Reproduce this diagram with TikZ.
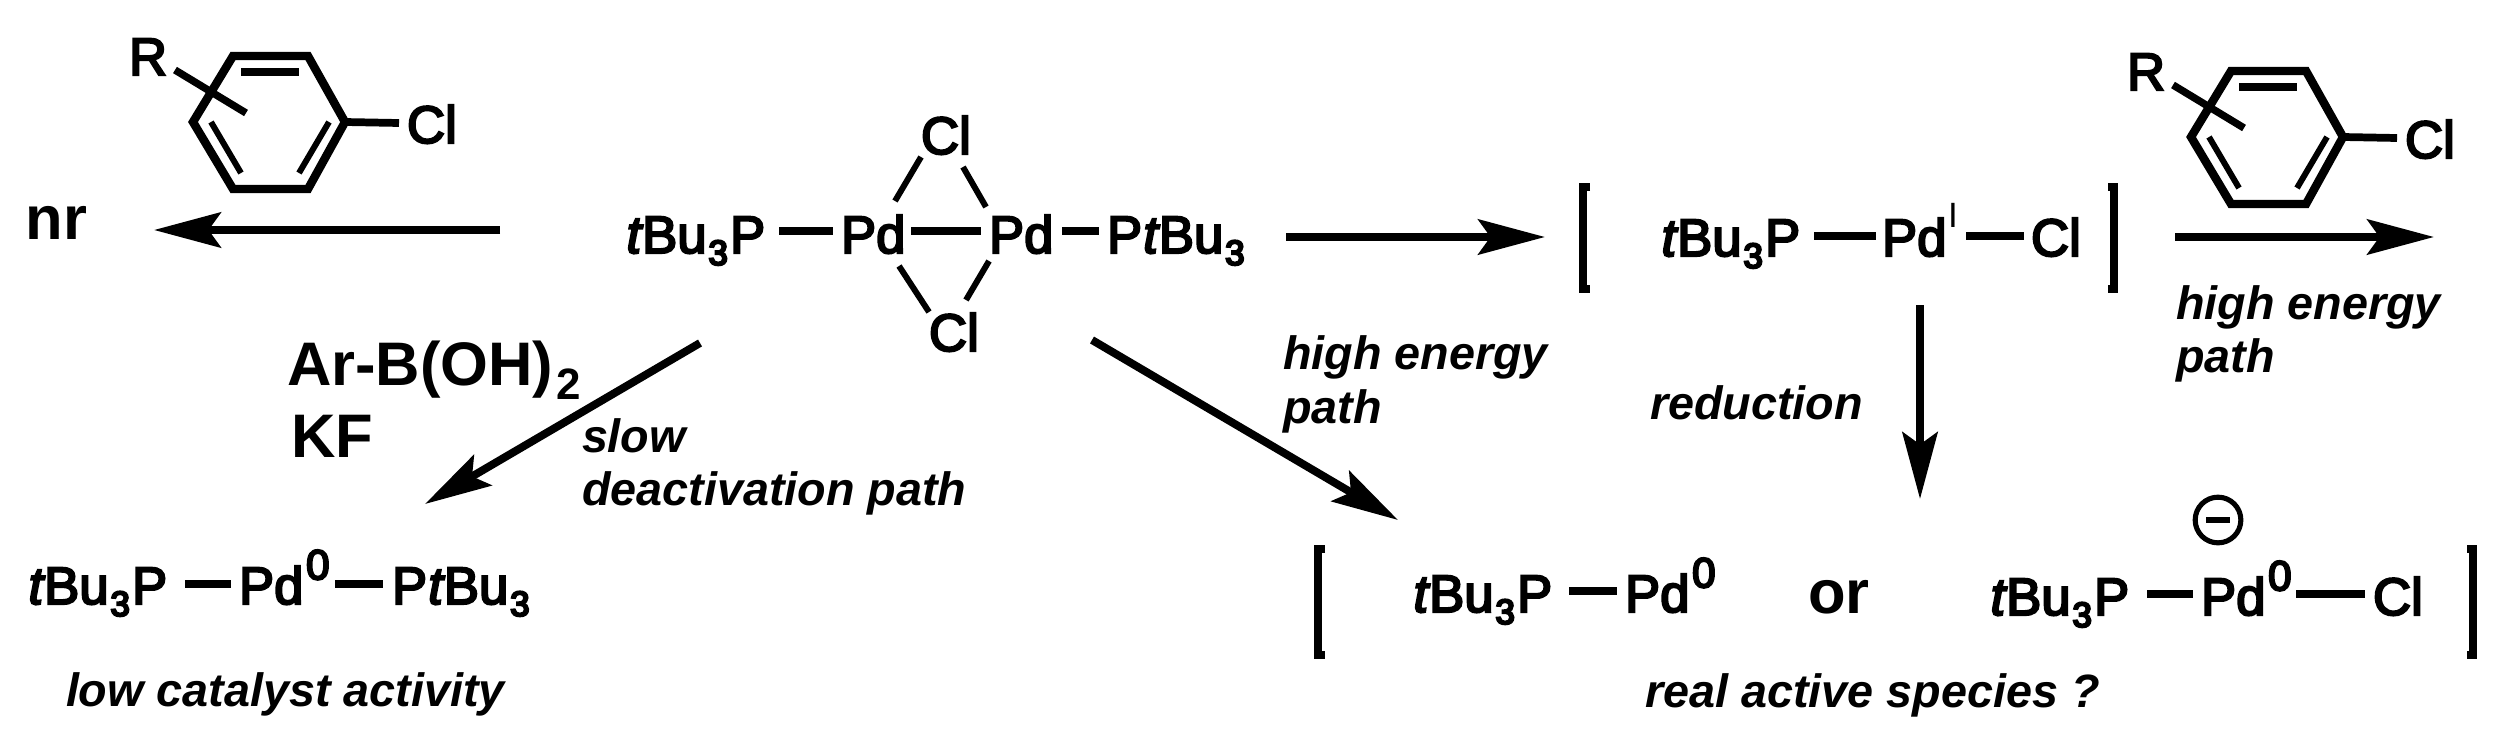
\documentclass[tikz,border=0pt]{standalone}
\usepackage{fontspec}
\usetikzlibrary{arrows.meta}
\setmainfont{Liberation Sans}
\newfontfamily\chemf{Liberation Sans}
\newfontfamily\boldf{Liberation Sans Bold}
\newfontfamily\bif{Liberation Sans Bold Italic}
\newfontfamily\itf{Liberation Sans Italic}
\newcommand\main{\fontsize{30pt}{30pt}\chemf}
\newcommand\subf{\fontsize{20pt}{20pt}\chemf}
\newcommand\supf{\fontsize{24pt}{24pt}\chemf}
\newcommand\tbu{\hspace{-2pt}{\fontsize{30pt}{30pt}\itf t}\hspace{.6pt}Bu\hspace{1pt}\raisebox{-6.8pt}{\subf 3}\hspace{1.2pt}P}
\newcommand\ptbu{P\hspace{.6pt}{\fontsize{30pt}{30pt}\itf t}\hspace{.6pt}Bu\hspace{1pt}\raisebox{-6.8pt}{\subf 3}}
\newcommand\pdzero{Pd\raisebox{14pt}{\hspace{1.5pt}\supf 0}}
\tikzset{
  chem/.style={anchor=base west,inner sep=0pt,outer sep=0pt,font=\main,
    execute at begin node={\special{pdf:code 2 Tr 1.2 w}},
    execute at end node={\special{pdf:code 0 Tr}}},
  heavy/.style={anchor=base west,inner sep=0pt,outer sep=0pt,font=\fontsize{35pt}{35pt}\boldf},
  note/.style={anchor=base west,inner sep=0pt,outer sep=0pt,font=\fontsize{26.6pt}{26.6pt}\bif},
  bond/.style={line width=4.4pt},
  wbond/.style={line width=3.4pt},
  ringline/.style={line width=4.8pt,line join=miter},
  inner/.style={line width=3.4pt},
  rxn/.style={line width=4.5pt,-{Stealth[length=38pt,width=20pt,inset=7pt]}},
  brk/.style={line width=4.4pt,line join=miter}
}
\begin{document}
\begin{tikzpicture}[x=0.02cm,y=-0.02cm]
\path[use as bounding box,fill=white] (0,0) rectangle (2500,744);

% rings
\foreach \dx/\dy/\p in {0/0/a,1998/15/b}{
\begin{scope}[shift={(\dx,\dy)}]
  \coordinate (\p1) at (233,56);
  \coordinate (\p2) at (308,56);
  \coordinate (\p3) at (345,122);
  \coordinate (\p4) at (308,189);
  \coordinate (\p5) at (233,189);
  \coordinate (\p6) at (193,122);
  \draw[ringline] (\p1)--(\p2)--(\p3)--(\p4)--(\p5)--(\p6)--cycle;
  \coordinate (\p t1) at (241,72);
  \coordinate (\p t2) at (299,72);
  \coordinate (\p l1) at (211,122);
  \coordinate (\p l2) at (241,173);
  \coordinate (\p r1) at (329,122);
  \coordinate (\p r2) at (299,173);
  \draw[line width=4.4pt] (\p t1)--(\p t2);
  \draw[inner] (\p l1)--(\p l2);
  \draw[inner] (\p r1)--(\p r2);
  \coordinate (\p s1) at (175,70);
  \coordinate (\p s2) at (246,113);
  \draw[line width=4.2pt] (\p s1)--(\p s2);
  \node[chem] (\p R) at (129,75) {R};
  \node[chem] (\p Cl) at (407,143) {Cl};
  \coordinate (\p c) at (399,123);
  \draw[bond] (\p3)--(\p c);
\end{scope}}

% nr arrow
\node[heavy] (nr) at (26,239) {nr};
\coordinate (nrs) at (500,230);
\coordinate (nre) at (154,230);
\draw[rxn] (nrs)--(nre);

% dimer
\node[chem] (dp1) at (630,253) {\tbu};
\node[chem] (dpd1) at (841,253) {Pd};
\node[chem] (dpd2) at (989,253) {Pd};
\node[chem] (dp2) at (1107,253) {\ptbu};
\node[chem] (dcl1) at (921,154) {Cl};
\node[chem] (dcl2) at (929,351) {Cl};
\coordinate (b1a) at (779,231); \coordinate (b1b) at (833,231);
\coordinate (b2a) at (911,231); \coordinate (b2b) at (981,231);
\coordinate (b3a) at (1062,231); \coordinate (b3b) at (1099,231);
\draw[bond] (b1a)--(b1b);
\draw[bond] (b2a)--(b2b);
\draw[bond] (b3a)--(b3b);
\coordinate (c1a) at (921,157); \coordinate (c1b) at (895,201);
\coordinate (c2a) at (963,167); \coordinate (c2b) at (986,207);
\coordinate (c3a) at (899,266); \coordinate (c3b) at (929,312);
\coordinate (c4a) at (989,261); \coordinate (c4b) at (966,300);
\draw[wbond] (c1a)--(c1b);
\draw[wbond] (c2a)--(c2b);
\draw[wbond] (c3a)--(c3b);
\draw[wbond] (c4a)--(c4b);

% reagents
\node[heavy] (arb) at (287,385) {Ar-B(OH)\hspace{1.5pt}\raisebox{-8pt}{\fontsize{25pt}{25pt}\boldf 2}};
\node[heavy] (kf) at (291,457) {KF};

% diagonal arrows
\coordinate (d1s) at (700,343); \coordinate (d1e) at (425,504);
\draw[rxn] (d1s)--(d1e);
\coordinate (d2s) at (1092,340); \coordinate (d2e) at (1398,520);
\draw[rxn] (d2s)--(d2e);

\node[note] (slow) at (582,452) {slow};
\node[note] (deact) at (582,505) {deactivation path};

% bottom left
\node[chem] (l1) at (32,604) {\tbu};
\node[chem] (l2) at (239,604) {\pdzero};
\node[chem] (l3) at (392,604) {\ptbu};
\coordinate (l4a) at (185,584); \coordinate (l4b) at (231,584);
\coordinate (l5a) at (335,584); \coordinate (l5b) at (383,584);
\draw[bond] (l4a)--(l4b);
\draw[bond] (l5a)--(l5b);
\node[note] (lowc) at (66,706) {low catalyst activity};

% top arrow and Pd(I)
\coordinate (h1s) at (1286,237); \coordinate (h1e) at (1545,237);
\draw[rxn] (h1s)--(h1e);
\coordinate (bl1) at (1590,187); \coordinate (bl2) at (1583,187);
\coordinate (bl3) at (1583,289); \coordinate (bl4) at (1590,289);
\draw[brk] (bl1)--(bl2)--(bl3)--(bl4);
\coordinate (br1) at (2108,187); \coordinate (br2) at (2114,187);
\coordinate (br3) at (2114,289); \coordinate (br4) at (2108,289);
\draw[brk] (br1)--(br2)--(br3)--(br4);
\node[chem] (m1) at (1665,256) {\tbu};
\node[chem] (m2) at (1882,256) {Pd};
\node[anchor=base west,inner sep=0pt,outer sep=0pt,font=\fontsize{20pt}{20pt}\chemf] (m3) at (1948,227) {I};
\node[chem] (m4) at (2031,256) {Cl};
\coordinate (m5a) at (1814,236); \coordinate (m5b) at (1876,236);
\coordinate (m6a) at (1966,236); \coordinate (m6b) at (2024,236);
\draw[bond] (m5a)--(m5b);
\draw[bond] (m6a)--(m6b);
\coordinate (h2s) at (2175,237); \coordinate (h2e) at (2434,237);
\draw[rxn] (h2s)--(h2e);

\node[note] (he1) at (2176,319) {high energy};
\node[note] (he2) at (2176,372) {path};
\node[note] (he3) at (1283,369) {high energy};
\node[note] (he4) at (1283,423) {path};
\node[note] (red) at (1650,419) {reduction};
\coordinate (v1s) at (1920,305); \coordinate (v1e) at (1920,499);
\draw[rxn] (v1s)--(v1e);

% bottom right
\coordinate (cl1) at (1325,549); \coordinate (cl2) at (1318,549);
\coordinate (cl3) at (1318,655); \coordinate (cl4) at (1325,655);
\draw[brk] (cl1)--(cl2)--(cl3)--(cl4);
\coordinate (cr1) at (2467,549); \coordinate (cr2) at (2473,549);
\coordinate (cr3) at (2473,655); \coordinate (cr4) at (2467,655);
\draw[brk] (cr1)--(cr2)--(cr3)--(cr4);
\node[chem] (r1) at (1417,612) {\tbu};
\node[chem] (r2) at (1625,612) {\pdzero};
\coordinate (r3a) at (1569,591); \coordinate (r3b) at (1617,591);
\draw[bond] (r3a)--(r3b);
\node[heavy] (or) at (1808,613) {or};
\node[chem] (r4) at (1994,615) {\tbu};
\node[chem] (r5) at (2201,615) {\pdzero};
\node[chem] (r6) at (2373,615) {Cl};
\coordinate (r7a) at (2147,594); \coordinate (r7b) at (2193,594);
\coordinate (r8a) at (2296,594); \coordinate (r8b) at (2365,594);
\draw[bond] (r7a)--(r7b);
\draw[bond] (r8a)--(r8b);
\node[draw,circle,line width=2.9pt,minimum size=26pt,inner sep=0pt] (minus) at (2218,520) {};
\coordinate (mi1) at (2206,520); \coordinate (mi2) at (2230,520);
\draw[line width=3.6pt] (mi1)--(mi2);
\node[note] (rea) at (1645,707) {real active species ?};
\end{tikzpicture}
\end{document}
